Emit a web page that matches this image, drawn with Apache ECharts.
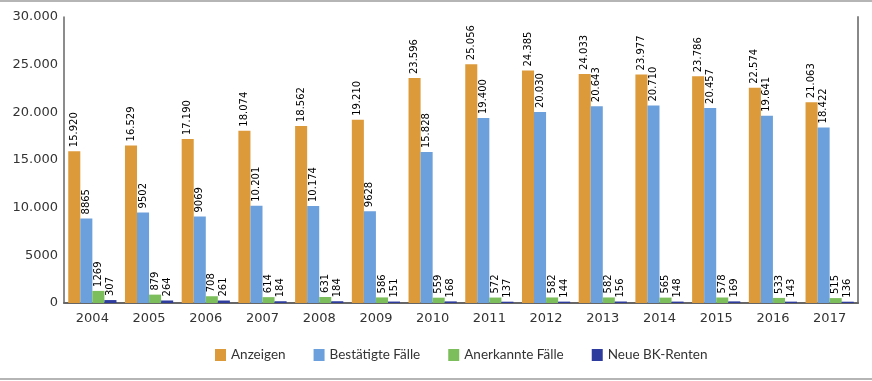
<!DOCTYPE html>
<html><head><meta charset="utf-8">
<script src="https://cdn.jsdelivr.net/npm/echarts@6/dist/echarts.min.js"></script>
<style>html,body{margin:0;padding:0;background:#fff}#c{width:872px;height:381px}</style>
</head><body><div id="c"></div>
<script>
const years = ['2004','2005','2006','2007','2008','2009','2010','2011','2012','2013','2014','2015','2016','2017'];
const anzeigen = [15920,16529,17190,18074,18562,19210,23596,25056,24385,24033,23977,23786,22574,21063];
const bestaetigt = [8865,9502,9069,10201,10174,9628,15828,19400,20030,20643,20710,20457,19641,18422];
const anerkannt = [1269,879,708,614,631,586,559,572,582,582,565,578,533,515];
const renten = [307,264,261,184,184,151,168,137,144,156,148,169,143,136];
const seriesNames = ['Anzeigen','Bestätigte Fälle','Anerkannte Fälle','Neue BK-Renten'];
const colors = ['#DD9A3A','#6CA0DC','#7DBE5C','#2E3C9E'];

const fmt = v => v >= 10000 ? String(v).replace(/(\d)(?=(\d{3})+$)/g,'$1.') : String(v);
const DV = '"DejaVu Sans", sans-serif';

const chart = echarts.init(document.getElementById('c'), null, {renderer:'canvas'});
const mk = (name, data, color) => ({
  name, type:'bar', data, barGap:'0%', barCategoryGap:'15%',
  itemStyle:{color},
  label:{show:true, position:'top', rotate:90, align:'left', verticalAlign:'middle', distance:4,
    fontFamily:DV, fontSize:10, color:'#000',
    formatter: p => fmt(p.value)}
});
chart.setOption({
  animation:false,
  grid:{left:64, right:14, top:17, bottom:78, containLabel:false},
  legend:{bottom:14, left:210, itemWidth:11, itemHeight:12, itemGap:28,
    icon:'rect', textStyle:{fontFamily:'Lato', fontSize:13.5, color:'#333'}},
  xAxis:{type:'category', data:years, axisTick:{show:false},
    axisLine:{lineStyle:{color:'#666', width:2}},
    axisLabel:{fontFamily:DV, fontSize:13, color:'#333', margin:9}},
  yAxis:[{type:'value', min:0, max:30000, interval:5000,
    axisLine:{show:true, lineStyle:{color:'#666', width:1.5}}, axisTick:{show:false}, splitLine:{show:false},
    axisLabel:{fontFamily:DV, fontSize:13, color:'#333', margin:6, formatter: v => fmt(v)}},
    {type:'value', min:0, max:30000, interval:5000, position:'right',
    axisLine:{show:true, lineStyle:{color:'#888', width:2}}, axisTick:{show:false}, splitLine:{show:false}, axisLabel:{show:false}}],
  graphic:[
    {type:'line', shape:{x1:0,y1:1,x2:872,y2:1}, style:{stroke:'#b5b5b5', lineWidth:2}},
    {type:'line', shape:{x1:0,y1:379,x2:872,y2:379}, style:{stroke:'#b5b5b5', lineWidth:2}}
  ],
  series:[mk(seriesNames[0],anzeigen,colors[0]), mk(seriesNames[1],bestaetigt,colors[1]),
          mk(seriesNames[2],anerkannt,colors[2]), mk(seriesNames[3],renten,colors[3])]
});
</script></body></html>
